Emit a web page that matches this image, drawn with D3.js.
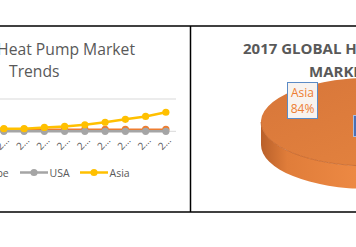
<!DOCTYPE html>
<html lang="en">
<head>
<meta charset="UTF-8">
<title>Heat Pump Market</title>
<script src="https://d3js.org/d3.v7.min.js"></script>
<style>
  body { margin: 0; background: #fff; }
  svg { display: block; font-family: "Open Sans", sans-serif; }
</style>
</head>
<body>
<div id="chart"></div>
<script>
// line chart data (units, max gridline = 10)
const years = ["2005", "2006", "2007", "2008", "2009", "2010", "2011", "2012", "2013", "2014", "2015", "2016", "2017"];
const europe = [0.6, 0.6, 0.6, 0.6, 0.6, 0.6, 0.6, 0.6, 0.6, 0.6, 0.6, 0.6, 0.6];
const usa = [0, 0, 0, 0, 0, 0, 0, 0, 0, 0, 0, 0, 0];
const asia = [0.5, 0.5, 0.6, 0.7, 0.8, 0.8, 1.2, 1.5, 2.0, 2.8, 3.7, 4.6, 5.9];
const yTicks = [10];

// pie data (2017 share)
const pieRegions = ["Europe", "USA", "Asia"];
const pieShares = [10, 6, 84];

const W = 356, H = 247;
const svg = d3.select("#chart").append("svg").attr("width", W).attr("height", H);

// ---- line chart ----
const x = d3.scaleBand().domain(years).range([176 - years.length * 20.25, 176]);
const y = d3.scaleLinear().domain([0, 10]).range([131.3, 99]);
const cx = d => x(d) + x.bandwidth() / 2;

svg.append("g").selectAll("line").data(yTicks).join("line")
  .attr("x1", x.range()[0]).attr("x2", 176)
  .attr("y1", d => y(d)).attr("y2", d => y(d))
  .attr("stroke", "#d9d9d9").attr("stroke-width", 1);

svg.append("line").attr("x1", x.range()[0]).attr("x2", 176)
  .attr("y1", y(0)).attr("y2", y(0)).attr("stroke", "#d9d9d9");

svg.append("g").selectAll("text").data(years).join("text")
  .attr("transform", d => `translate(${cx(d) + 6},141) rotate(-45)`)
  .attr("text-anchor", "end").attr("font-size", 10).attr("fill", "#595959")
  .text("2\u2026");

const series = [
  {name: "Europe", values: europe, color: "#ed7d31", width: 1.5},
  {name: "USA", values: usa, color: "#a5a5a5", width: 2.5},
  {name: "Asia", values: asia, color: "#ffc000", width: 2.5}
];
const line = d3.line().x((v, i) => cx(years[i])).y(v => y(v));
series.forEach(s => {
  svg.append("path").datum(s.values).attr("d", line)
    .attr("fill", "none").attr("stroke", s.color).attr("stroke-width", s.width);
  svg.append("g").selectAll("circle").data(s.values).join("circle")
    .attr("cx", (v, i) => cx(years[i])).attr("cy", v => y(v)).attr("r", 3.6)
    .attr("fill", s.color);
});

// legend
const legendX = {Europe: -56, USA: 20, Asia: 80};
series.forEach(s => {
  const lx = legendX[s.name];
  const g = svg.append("g").attr("transform", `translate(${lx},172.5)`);
  g.append("line").attr("x1", 0).attr("x2", 28).attr("stroke", s.color).attr("stroke-width", 2.5);
  g.append("circle").attr("cx", 14).attr("r", 3.6).attr("fill", s.color);
  g.append("text").attr("x", 29.5).attr("y", 4).attr("font-size", 10.5).attr("fill", "#595959").text(s.name);
});

// titles
svg.append("text").attr("x", 135).attr("y", 55).attr("text-anchor", "end")
  .attr("font-size", 15.7).attr("fill", "#595959").text("Global Heat Pump Market");
svg.append("text").attr("x", 9).attr("y", 77)
  .attr("font-size", 15.7).attr("fill", "#595959").text("Trends");

// ---- 3D pie ----
const defs = svg.append("defs");
const topGrad = defs.append("linearGradient").attr("id", "topG")
  .attr("x1", 0).attr("y1", 0).attr("x2", 1).attr("y2", 1);
topGrad.append("stop").attr("offset", "0%").attr("stop-color", "#d7763a");
topGrad.append("stop").attr("offset", "100%").attr("stop-color", "#e6853f");
const sideGrad = defs.append("linearGradient").attr("id", "sideG")
  .attr("x1", 0).attr("y1", 0).attr("x2", 1).attr("y2", 0);
sideGrad.append("stop").attr("offset", "0%").attr("stop-color", "#b9602a");
sideGrad.append("stop").attr("offset", "12%").attr("stop-color", "#e07d3a");
sideGrad.append("stop").attr("offset", "50%").attr("stop-color", "#ef8b45");
sideGrad.append("stop").attr("offset", "100%").attr("stop-color", "#f19049");

const pcx = 370, pcy = 122, rx = 109, ry = 44, depth = 23;
const pieColors = {Europe: "#4472c4", USA: "#a5a5a5", Asia: "#ed7d31"};
const arcs = d3.pie().sort(null)(pieShares);
const pt = (a, dy) => [pcx + rx * Math.sin(a), pcy - ry * Math.cos(a) + dy];

// sides (front half only)
arcs.forEach((a, i) => {
  const s = Math.max(a.startAngle, Math.PI / 2), e = Math.min(a.endAngle, 3 * Math.PI / 2);
  if (s >= e) return;
  const p0 = pt(s, 0), p1 = pt(e, 0), q1 = pt(e, depth), q0 = pt(s, depth);
  const fill = pieRegions[i] === "Asia" ? "url(#sideG)" : pieColors[pieRegions[i]];
  svg.append("path")
    .attr("d", `M${p0}A${rx},${ry} 0 0 1 ${p1}L${q1}A${rx},${ry} 0 0 0 ${q0}Z`)
    .attr("fill", fill);
});

// top faces
const arc = d3.arc().innerRadius(0).outerRadius(1);
svg.append("g").attr("transform", `translate(${pcx},${pcy}) scale(${rx},${ry})`)
  .selectAll("path").data(arcs).join("path")
  .attr("d", arc)
  .attr("fill", (d, i) => pieRegions[i] === "Asia" ? "url(#topG)" : pieColors[pieRegions[i]]);

// edge between top and side
svg.append("path")
  .attr("d", `M${pt(Math.PI / 2, 0)}A${rx},${ry} 0 0 1 ${pt(3 * Math.PI / 2, 0)}`)
  .attr("fill", "none").attr("stroke", "#c4662c").attr("stroke-width", 0.8);

// labels
svg.append("rect").attr("x", 353.5).attr("y", 115.5).attr("width", 10).attr("height", 21)
  .attr("fill", "#4a6fb2").attr("stroke", "#a9bde0");
svg.append("rect").attr("x", 287.5).attr("y", 82.5).attr("width", 30).attr("height", 36)
  .attr("fill", "#f8f3ef").attr("stroke", "#5b8bc6");
svg.append("text").attr("x", 302.5).attr("y", 96.5).attr("text-anchor", "middle")
  .attr("font-size", 12).attr("fill", "#ed7d31").text(pieRegions[2]);
svg.append("text").attr("x", 302.5).attr("y", 113).attr("text-anchor", "middle")
  .attr("font-size", 12).attr("fill", "#ed7d31").text(pieShares[2] + "%");

svg.append("text").attr("x", 243).attr("y", 54).attr("font-size", 15).attr("font-weight", "bold")
  .attr("fill", "#595959").text("2017 GLOBAL HEAT PUMP");
svg.append("text").attr("x", 309).attr("y", 77).attr("font-size", 15).attr("font-weight", "bold")
  .attr("fill", "#595959").text("MARKET SHARE");

// table borders
svg.append("line").attr("x1", 0).attr("x2", W).attr("y1", 26).attr("y2", 26).attr("stroke", "#000").attr("stroke-width", 1.5);
svg.append("line").attr("x1", 0).attr("x2", W).attr("y1", 212).attr("y2", 212).attr("stroke", "#000").attr("stroke-width", 1.5);
svg.append("line").attr("x1", 190.5).attr("x2", 190.5).attr("y1", 26).attr("y2", 212).attr("stroke", "#000").attr("stroke-width", 1.5);
</script>
</body>
</html>
